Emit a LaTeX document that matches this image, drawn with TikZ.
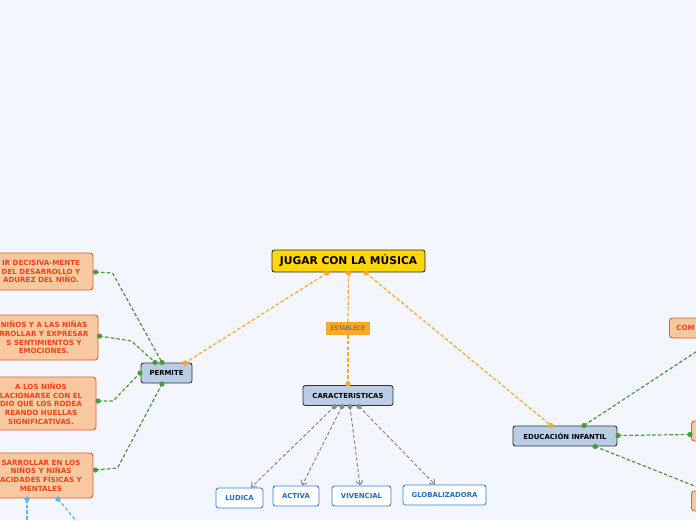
\documentclass[tikz,border=0pt]{standalone}
\usepackage{fontspec}
\setmainfont{DejaVu Sans}
\usetikzlibrary{arrows.meta}
\usetikzlibrary{calc}
\definecolor{bgblue}{HTML}{F3F6FD}
\definecolor{rootyellow}{HTML}{FFD60A}
\definecolor{topicblue}{HTML}{B9CDE6}
\definecolor{leafblue}{HTML}{2D7FE0}
\definecolor{notefill}{HTML}{F8C9A0}
\definecolor{noteline}{HTML}{EC5B2E}
\definecolor{notetext}{HTML}{EF4318}
\definecolor{linkorange}{HTML}{F7A928}
\definecolor{linkgreen}{HTML}{4C9A3E}
\definecolor{linkgray}{HTML}{8A8A8A}
\definecolor{linkcyan}{HTML}{55B8EC}
\tikzset{
  root/.style={draw=black!85, fill=rootyellow, rounded corners=2.5pt, line width=0.9pt,
    minimum width=153pt, minimum height=22pt, inner sep=0pt,
    font=\fontsize{10.7}{12}\selectfont\bfseries},
  topic/.style={draw=black!80, fill=topicblue, rounded corners=2.5pt, line width=0.9pt,
    minimum height=20pt, inner sep=0pt, font=\fontsize{6.9}{8}\selectfont\bfseries},
  leaf/.style={draw=leafblue, fill=white, rounded corners=2.5pt, line width=0.8pt,
    minimum height=20pt, inner sep=0pt, text=leafblue!85!black,
    font=\fontsize{6.9}{8}\selectfont\bfseries},
  note/.style={draw=noteline, fill=notefill, rounded corners=3pt, line width=0.9pt,
    inner sep=0pt, align=center, text=notetext,
    font=\fontsize{7.1}{8.7}\selectfont\bfseries},
  tag/.style={fill=linkorange, inner sep=0pt, minimum width=44pt, minimum height=13pt,
    text=black!65, font=\fontsize{6}{7}\selectfont},
  link/.style={dash pattern=on 3.5pt off 2.2pt, line width=1.2pt},
  orangelink/.style={link, draw=linkorange},
  greenlink/.style={link, draw=linkgreen},
  graylink/.style={link, line width=1pt, draw=linkgray, -{Straight Barb[length=4pt,width=7pt]}},
  cyanlink/.style={link, draw=linkcyan},
}
\newcommand{\portdot}[2]{\fill[#1] (#2) circle (2.6pt);}
\begin{document}
\begin{tikzpicture}[x=1pt,y=-1pt]
  \fill[bgblue] (0,0) rectangle (696,520);
  \useasboundingbox (0,0) rectangle (696,520);
  \clip (0,0) rectangle (696,520);

  % nodes
  \node[root] (musica) at (348.5,261) {JUGAR CON LA MÚSICA};
  \node[tag] (establece) at (348,328.5) {ESTABLECE};
  \node[topic, minimum width=90pt] (caract) at (348,395.5) {CARACTERISTICAS};
  \node[topic, minimum width=51pt] (permite) at (166.5,373) {PERMITE};
  \node[topic, minimum width=104pt] (educacion) at (565,436) {EDUCACIÓN INFANTIL};

  \node[leaf, minimum width=47pt] (ludica) at (239.5,498) {LUDICA};
  \node[leaf, minimum width=46pt] (activa) at (296,496) {ACTIVA};
  \node[leaf, minimum width=59pt] (vivencial) at (361.5,496) {VIVENCIAL};
  \node[leaf, minimum width=83pt] (global) at (444.5,495) {GLOBALIZADORA};

  \node[note, minimum width=104pt, minimum height=37pt] (madurez) at (41,271.5)
    {IR DECISIVA-MENTE\\DEL DESARROLLO Y\\ADUREZ DEL NIÑO.};
  \node[note, minimum width=108pt, minimum height=45pt] (emociones) at (44,337.5)
    {NIÑOS Y A LAS NIÑAS\\RROLLAR Y EXPRESAR\\S SENTIMIENTOS Y\\EMOCIONES.};
  \node[note, minimum width=110pt, minimum height=53pt] (medio) at (41,403.5)
    {A LOS NIÑOS\\LACIONARSE CON EL\\DIO QUE LOS RODEA\\REANDO HUELLAS\\SIGNIFICATIVAS.};
  \node[note, minimum width=104pt, minimum height=45pt] (capacidades) at (41,475.5)
    {SARROLLAR EN LOS\\NIÑOS Y NIÑAS\\ACIDADES FÍSICAS Y\\MENTALES};

  \node[note, anchor=west, align=left, text width=66pt, inner xsep=7pt,
    minimum height=20pt] (comun) at (669,328) {COM};
  \node[note, anchor=west, minimum width=60pt, minimum height=20pt] (derecha1) at (691,431) {};
  \node[note, anchor=west, minimum width=60pt, minimum height=20pt] (derecha2) at (691,501) {};

  % ports
  \coordinate (m1) at (327,273);
  \coordinate (m2) at (348.5,273);
  \coordinate (m3) at (366,273);
  \coordinate (c0) at (348,384);
  \coordinate (c1) at (334.5,406.5);
  \coordinate (c2) at (342,406.5);
  \coordinate (c3) at (350,406.5);
  \coordinate (c4) at (359,406.5);
  \coordinate (p0) at (185,363);
  \coordinate (p1) at (155,362.5);
  \coordinate (p2) at (162,362.5);
  \coordinate (p3) at (140,373);
  \coordinate (p4) at (162,384);
  \coordinate (e0) at (551,425.5);
  \coordinate (e1) at (584,425.5);
  \coordinate (e2) at (618,435.5);
  \coordinate (e3) at (595,446.5);
  \coordinate (n1) at (95.5,272);
  \coordinate (n2) at (99.5,336);
  \coordinate (n3) at (98,401);
  \coordinate (n4) at (95.5,470);
  \coordinate (k1) at (27,499);
  \coordinate (k2) at (58,499);
  \coordinate (k1end) at (27,530);
  \coordinate (k2end) at (88,535);
  \coordinate (r1) at (690,434.5);
  \coordinate (r0end) at (714,340);
  \coordinate (r2end) at (720,496);

  % connectors
  \draw[orangelink] (m1) -- (p0);
  \draw[orangelink] (m2) -- (establece.north);
  \draw[orangelink] (establece.south) -- (c0);
  \draw[orangelink] (m3) -- (e0);

  \draw[graylink] (c1) -- (ludica.north -| 251,0);
  \draw[graylink] (c2) -- (activa.north -| 302,0);
  \draw[graylink] (c3) -- (vivencial.north -| 360,0);
  \draw[graylink] (c4) -- (global.north -| 435,0);

  \draw[greenlink] (n1) -- ++(17,1) -- (p2);
  \draw[greenlink] (n2) -- ++(32,5) -- (p1);
  \draw[greenlink] (n3) -- ++(15,0) -- (p3);
  \draw[greenlink] (n4) -- ++(22,-2) -- (p4);

  \draw[greenlink] (e1) -- (r0end);
  \draw[greenlink] (e2) -- (r1);
  \draw[greenlink] (e3) -- (r2end);

  \draw[cyanlink] (k1) -- (k1end);
  \draw[cyanlink] (k2) -- (k2end);

  % dots
  \foreach \p in {m1,m2,m3,c0,p0,e0} {\portdot{linkorange}{\p}}
  \foreach \p in {c1,c2,c3,c4} {\portdot{linkgray}{\p}}
  \foreach \p in {p1,p2,p3,p4,n1,n2,n3,n4,e1,e2,e3,r1} {\portdot{linkgreen}{\p}}
  \foreach \p in {k1,k2} {\portdot{linkcyan}{\p}}
\end{tikzpicture}
\end{document}
